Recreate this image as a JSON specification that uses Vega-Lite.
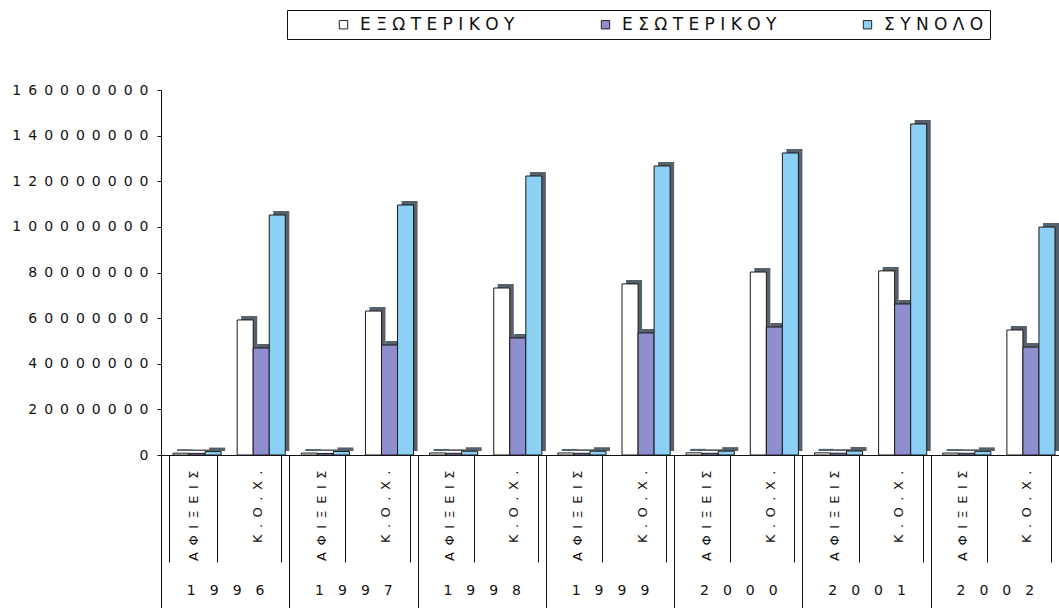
{
  "$schema": "https://vega.github.io/schema/vega-lite/v6.json",
  "width": 898,
  "height": 365,
  "autosize": {"type": "none"},
  "padding": {"left": 161, "top": 90, "right": 0, "bottom": 153},
  "background": "white",
  "config": {
    "view": {"stroke": null},
    "font": "DejaVu Sans",
    "axis": {"domainColor": "#111111", "tickColor": "#111111", "labelColor": "#111111", "grid": false, "labelFont": "DejaVu Sans"},
    "legend": {"labelFont": "DejaVu Sans"}
  },
  "data": {
    "values": [
      {"year": "1996", "group": "1996 ΑΦΙΞΕΙΣ", "series": "ΕΞΩΤΕΡΙΚΟΥ", "value": 800000},
      {"year": "1996", "group": "1996 ΑΦΙΞΕΙΣ", "series": "ΕΣΩΤΕΡΙΚΟΥ", "value": 700000},
      {"year": "1996", "group": "1996 ΑΦΙΞΕΙΣ", "series": "ΣΥΝΟΛΟ", "value": 1500000},
      {"year": "1996", "group": "1996 Κ.Ο.Χ.", "series": "ΕΞΩΤΕΡΙΚΟΥ", "value": 59200000},
      {"year": "1996", "group": "1996 Κ.Ο.Χ.", "series": "ΕΣΩΤΕΡΙΚΟΥ", "value": 46900000},
      {"year": "1996", "group": "1996 Κ.Ο.Χ.", "series": "ΣΥΝΟΛΟ", "value": 105200000},
      {"year": "1997", "group": "1997 ΑΦΙΞΕΙΣ", "series": "ΕΞΩΤΕΡΙΚΟΥ", "value": 850000},
      {"year": "1997", "group": "1997 ΑΦΙΞΕΙΣ", "series": "ΕΣΩΤΕΡΙΚΟΥ", "value": 700000},
      {"year": "1997", "group": "1997 ΑΦΙΞΕΙΣ", "series": "ΣΥΝΟΛΟ", "value": 1550000},
      {"year": "1997", "group": "1997 Κ.Ο.Χ.", "series": "ΕΞΩΤΕΡΙΚΟΥ", "value": 63100000},
      {"year": "1997", "group": "1997 Κ.Ο.Χ.", "series": "ΕΣΩΤΕΡΙΚΟΥ", "value": 48200000},
      {"year": "1997", "group": "1997 Κ.Ο.Χ.", "series": "ΣΥΝΟΛΟ", "value": 109600000},
      {"year": "1998", "group": "1998 ΑΦΙΞΕΙΣ", "series": "ΕΞΩΤΕΡΙΚΟΥ", "value": 900000},
      {"year": "1998", "group": "1998 ΑΦΙΞΕΙΣ", "series": "ΕΣΩΤΕΡΙΚΟΥ", "value": 750000},
      {"year": "1998", "group": "1998 ΑΦΙΞΕΙΣ", "series": "ΣΥΝΟΛΟ", "value": 1650000},
      {"year": "1998", "group": "1998 Κ.Ο.Χ.", "series": "ΕΞΩΤΕΡΙΚΟΥ", "value": 73200000},
      {"year": "1998", "group": "1998 Κ.Ο.Χ.", "series": "ΕΣΩΤΕΡΙΚΟΥ", "value": 51300000},
      {"year": "1998", "group": "1998 Κ.Ο.Χ.", "series": "ΣΥΝΟΛΟ", "value": 122300000},
      {"year": "1999", "group": "1999 ΑΦΙΞΕΙΣ", "series": "ΕΞΩΤΕΡΙΚΟΥ", "value": 900000},
      {"year": "1999", "group": "1999 ΑΦΙΞΕΙΣ", "series": "ΕΣΩΤΕΡΙΚΟΥ", "value": 750000},
      {"year": "1999", "group": "1999 ΑΦΙΞΕΙΣ", "series": "ΣΥΝΟΛΟ", "value": 1650000},
      {"year": "1999", "group": "1999 Κ.Ο.Χ.", "series": "ΕΞΩΤΕΡΙΚΟΥ", "value": 75000000},
      {"year": "1999", "group": "1999 Κ.Ο.Χ.", "series": "ΕΣΩΤΕΡΙΚΟΥ", "value": 53500000},
      {"year": "1999", "group": "1999 Κ.Ο.Χ.", "series": "ΣΥΝΟΛΟ", "value": 126700000},
      {"year": "2000", "group": "2000 ΑΦΙΞΕΙΣ", "series": "ΕΞΩΤΕΡΙΚΟΥ", "value": 950000},
      {"year": "2000", "group": "2000 ΑΦΙΞΕΙΣ", "series": "ΕΣΩΤΕΡΙΚΟΥ", "value": 750000},
      {"year": "2000", "group": "2000 ΑΦΙΞΕΙΣ", "series": "ΣΥΝΟΛΟ", "value": 1700000},
      {"year": "2000", "group": "2000 Κ.Ο.Χ.", "series": "ΕΞΩΤΕΡΙΚΟΥ", "value": 80200000},
      {"year": "2000", "group": "2000 Κ.Ο.Χ.", "series": "ΕΣΩΤΕΡΙΚΟΥ", "value": 56100000},
      {"year": "2000", "group": "2000 Κ.Ο.Χ.", "series": "ΣΥΝΟΛΟ", "value": 132400000},
      {"year": "2001", "group": "2001 ΑΦΙΞΕΙΣ", "series": "ΕΞΩΤΕΡΙΚΟΥ", "value": 950000},
      {"year": "2001", "group": "2001 ΑΦΙΞΕΙΣ", "series": "ΕΣΩΤΕΡΙΚΟΥ", "value": 800000},
      {"year": "2001", "group": "2001 ΑΦΙΞΕΙΣ", "series": "ΣΥΝΟΛΟ", "value": 1750000},
      {"year": "2001", "group": "2001 Κ.Ο.Χ.", "series": "ΕΞΩΤΕΡΙΚΟΥ", "value": 80700000},
      {"year": "2001", "group": "2001 Κ.Ο.Χ.", "series": "ΕΣΩΤΕΡΙΚΟΥ", "value": 66200000},
      {"year": "2001", "group": "2001 Κ.Ο.Χ.", "series": "ΣΥΝΟΛΟ", "value": 145100000},
      {"year": "2002", "group": "2002 ΑΦΙΞΕΙΣ", "series": "ΕΞΩΤΕΡΙΚΟΥ", "value": 850000},
      {"year": "2002", "group": "2002 ΑΦΙΞΕΙΣ", "series": "ΕΣΩΤΕΡΙΚΟΥ", "value": 750000},
      {"year": "2002", "group": "2002 ΑΦΙΞΕΙΣ", "series": "ΣΥΝΟΛΟ", "value": 1600000},
      {"year": "2002", "group": "2002 Κ.Ο.Χ.", "series": "ΕΞΩΤΕΡΙΚΟΥ", "value": 54800000},
      {"year": "2002", "group": "2002 Κ.Ο.Χ.", "series": "ΕΣΩΤΕΡΙΚΟΥ", "value": 47300000},
      {"year": "2002", "group": "2002 Κ.Ο.Χ.", "series": "ΣΥΝΟΛΟ", "value": 99900000}
    ]
  },
  "encoding": {
    "y": {
      "field": "value",
      "type": "quantitative",
      "scale": {"domain": [0, 160000000], "nice": false},
      "axis": {
        "title": null,
        "values": [0, 20000000, 40000000, 60000000, 80000000, 100000000, 120000000, 140000000, 160000000],
        "format": "d",
        "labelExpr": "join(split(datum.label, ''), '\u2002')",
        "labelFontSize": 14,
        "tickSize": 4,
        "labelPadding": 9
      }
    }
  },
  "resolve": {"scale": {"x": "independent", "xOffset": "independent"}},
  "layer": [
    {
      "mark": {"type": "bar", "color": "#56616c", "yOffset": -4},
      "encoding": {
        "x": {
          "field": "group",
          "type": "nominal",
          "sort": null,
          "scale": {"paddingInner": 0.25, "paddingOuter": 0.125, "align": 1},
          "axis": null
        },
        "xOffset": {
          "field": "series",
          "type": "nominal",
          "sort": ["ΕΞΩΤΕΡΙΚΟΥ", "ΕΣΩΤΕΡΙΚΟΥ", "ΣΥΝΟΛΟ"],
          "scale": {"paddingInner": 0, "paddingOuter": 0}
        }
      }
    },
    {
      "mark": {"type": "bar", "stroke": "#1a1a1a", "strokeWidth": 1},
      "encoding": {
        "x": {
          "field": "group",
          "type": "nominal",
          "sort": null,
          "scale": {"paddingInner": 0.25, "paddingOuter": 0.125, "align": 0.75},
          "axis": null
        },
        "xOffset": {
          "field": "series",
          "type": "nominal",
          "sort": ["ΕΞΩΤΕΡΙΚΟΥ", "ΕΣΩΤΕΡΙΚΟΥ", "ΣΥΝΟΛΟ"],
          "scale": {"paddingInner": 0, "paddingOuter": 0}
        },
        "color": {
          "field": "series",
          "type": "nominal",
          "sort": ["ΕΞΩΤΕΡΙΚΟΥ", "ΕΣΩΤΕΡΙΚΟΥ", "ΣΥΝΟΛΟ"],
          "scale": {
            "domain": ["ΕΞΩΤΕΡΙΚΟΥ", "ΕΣΩΤΕΡΙΚΟΥ", "ΣΥΝΟΛΟ"],
            "range": ["#ffffff", "#8f8fd0", "#8dd0f5"]
          },
          "legend": {
            "title": null,
            "orient": "none",
            "legendX": 126,
            "legendY": -80,
            "direction": "horizontal",
            "columns": 3,
            "columnPadding": 40,
            "symbolType": "square",
            "symbolSize": 70,
            "symbolStrokeColor": "#222222",
            "symbolStrokeWidth": 1,
            "symbolOffset": 42,
            "labelFontSize": 17,
            "labelLimit": 300,
            "labelOffset": 8,
            "labelColor": "#111111",
            "labelExpr": "join(split(datum.label, ''), ' ')",
            "strokeColor": "#111111",
            "fillColor": "white",
            "padding": 6
          }
        }
      }
    },
    {
      "mark": {"type": "bar", "opacity": 0},
      "encoding": {
        "x": {
          "field": "group",
          "type": "nominal",
          "sort": null,
          "scale": {"paddingInner": 0.25, "paddingOuter": 0.125},
          "axis": {
            "title": null,
            "orient": "bottom",
            "labelExpr": "datum.label ? join(split(split(datum.label, ' ')[1], ''), '\u2002') : ''",
            "labelAngle": -90,
            "labelAlign": "right",
            "labelBaseline": "middle",
            "labelFontSize": 13,
            "labelPadding": -92,
            "ticks": true,
            "tickBand": "extent",
            "tickSize": 107,
            "tickColor": "#111111",
            "domain": true
          }
        }
      }
    },
    {
      "mark": {"type": "bar", "opacity": 0},
      "encoding": {
        "x": {
          "field": "year",
          "type": "nominal",
          "scale": {"paddingInner": 0, "paddingOuter": 0},
          "axis": {
            "title": null,
            "orient": "bottom",
            "domain": false,
            "ticks": true,
            "tickBand": "extent",
            "tickSize": 153,
            "labelAngle": 0,
            "labelBaseline": "top",
            "labelPadding": -25,
            "labelFontSize": 14,
            "labelExpr": "datum.label ? join(split(datum.label, ''), '\u2003') : ''"
          }
        }
      }
    }
  ]
}
